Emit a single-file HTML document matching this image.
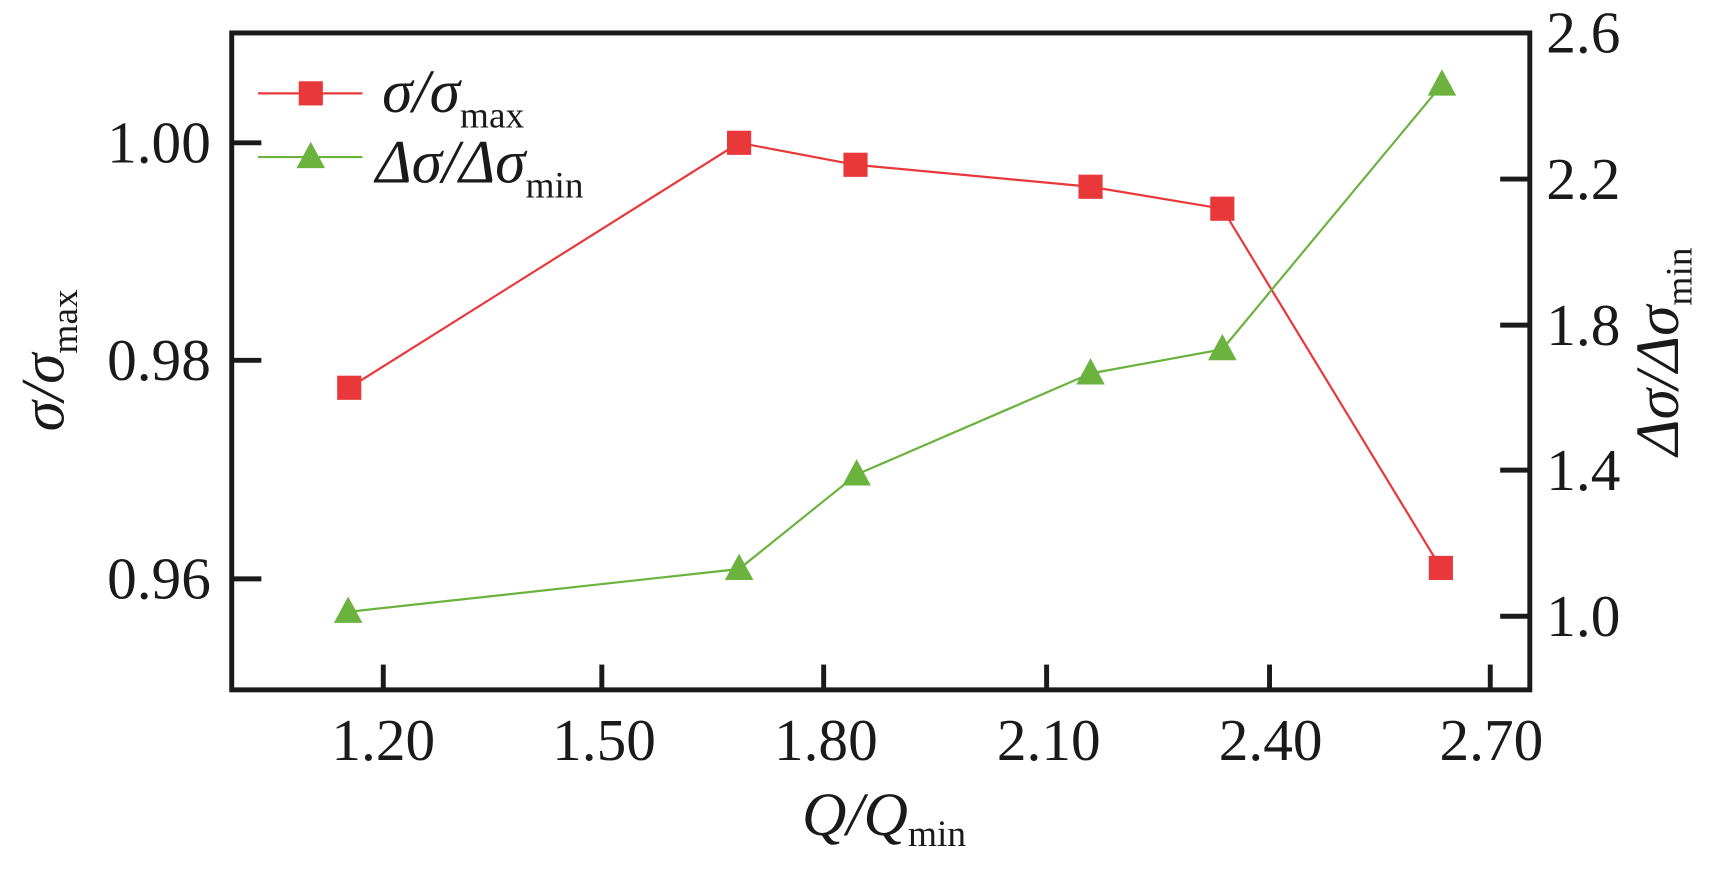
<!DOCTYPE html>
<html><head><meta charset="utf-8"><style>
html,body{margin:0;padding:0;background:#fff;}
svg{display:block;}
text{font-family:"Liberation Serif","Times New Roman",serif;fill:#1a1a1a;}
</style></head><body>
<svg width="1722" height="870" viewBox="0 0 1568 792" preserveAspectRatio="none" xmlns="http://www.w3.org/2000/svg">
<rect width="1568" height="792" fill="#fff"/>
<rect x="211" y="30" width="1182" height="598" fill="none" stroke="#1a1a1a" stroke-width="4.5"/>
<g stroke="#1a1a1a" stroke-width="4.5">
<line x1="349" y1="628" x2="349" y2="605"/>
<line x1="548" y1="628" x2="548" y2="605"/>
<line x1="750" y1="628" x2="750" y2="605"/>
<line x1="953" y1="628" x2="953" y2="605"/>
<line x1="1156" y1="628" x2="1156" y2="605"/>
<line x1="1357" y1="628" x2="1357" y2="605"/>
<line x1="211" y1="130" x2="238" y2="130"/>
<line x1="211" y1="328" x2="238" y2="328"/>
<line x1="211" y1="527" x2="238" y2="527"/>
<line x1="1393" y1="163" x2="1366" y2="163"/>
<line x1="1393" y1="296" x2="1366" y2="296"/>
<line x1="1393" y1="428" x2="1366" y2="428"/>
<line x1="1393" y1="561" x2="1366" y2="561"/>
</g>
<g font-size="54" text-anchor="middle">
<text x="349" y="692">1.20</text>
<text x="550" y="692">1.50</text>
<text x="752" y="692">1.80</text>
<text x="955" y="692">2.10</text>
<text x="1157" y="692">2.40</text>
<text x="1358" y="692">2.70</text>
</g>
<g font-size="54" text-anchor="end">
<text x="192" y="148">1.00</text>
<text x="192" y="346">0.98</text>
<text x="192" y="545">0.96</text>
</g>
<g font-size="54" text-anchor="start">
<text x="1408" y="48">2.6</text>
<text x="1408" y="181">2.2</text>
<text x="1408" y="314">1.8</text>
<text x="1408" y="446">1.4</text>
<text x="1408" y="579">1.0</text>
</g>
<text x="805" y="760" font-size="56" text-anchor="middle" font-style="italic">Q/Q<tspan font-size="34" font-style="normal" dy="10">min</tspan></text>
<text transform="translate(58,328) rotate(-90)" font-size="56" text-anchor="middle" font-style="italic">σ/σ<tspan font-size="34" font-style="normal" dy="12">max</tspan></text>
<text transform="translate(1528,320) rotate(-90)" font-size="56" text-anchor="middle" font-style="italic">Δσ/Δσ<tspan font-size="34" font-style="normal" dy="12">min</tspan></text>
<polyline points="318,353 673,130 779,150 993,170 1113,190 1312,517" fill="none" stroke="#e8383a" stroke-width="2"/>
<polyline points="317,557 673,518 780,432 993,340 1113,318 1313,77" fill="none" stroke="#6bb23f" stroke-width="2"/>
<g fill="#e8383a">
<rect x="307" y="342" width="22" height="22"/>
<rect x="662" y="119" width="22" height="22"/>
<rect x="768" y="139" width="22" height="22"/>
<rect x="982" y="159" width="22" height="22"/>
<rect x="1102" y="179" width="22" height="22"/>
<rect x="1301" y="506" width="22" height="22"/>
</g>
<g fill="#6bb23f">
<polygon points="317,543 304,567 330,567"/>
<polygon points="673,504 660,528 686,528"/>
<polygon points="780,418 767,442 793,442"/>
<polygon points="993,326 980,350 1006,350"/>
<polygon points="1113,304 1100,328 1126,328"/>
<polygon points="1313,63 1300,87 1326,87"/>
</g>
<line x1="235" y1="85" x2="330" y2="85" stroke="#e8383a" stroke-width="2"/>
<rect x="272" y="74" width="22" height="22" fill="#e8383a"/>
<line x1="235" y1="143" x2="330" y2="143" stroke="#6bb23f" stroke-width="2"/>
<polygon points="283,129 270,153 296,153" fill="#6bb23f"/>
<text x="348" y="102" font-size="56" font-style="italic">σ/σ<tspan font-size="34" font-style="normal" dy="14">max</tspan></text>
<text x="342" y="166" font-size="56" font-style="italic">Δσ/Δσ<tspan font-size="34" font-style="normal" dy="14">min</tspan></text>
</svg>
</body></html>
